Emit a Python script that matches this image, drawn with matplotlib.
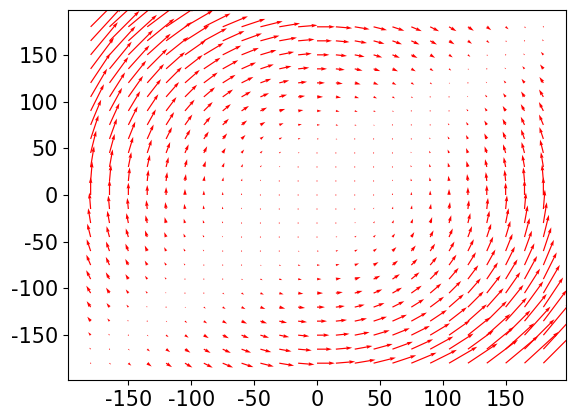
import numpy as np
import matplotlib
matplotlib.use("Agg")
import matplotlib.pyplot as plt

plt.rcParams["axes.unicode_minus"] = False

# grid positions (degrees), 15-degree spacing
x_vals = np.arange(-180, 181, 15)
y_vals = np.arange(-180, 181, 15)
tick_vals = [-150, -100, -50, 0, 50, 100, 150]

X, Y = np.meshgrid(x_vals, y_vals)
# vector field: zero along y = x, strongest in the top-left / bottom-right corners
U = Y * (Y - X)
V = X * (X - Y)

fig = plt.figure(figsize=(5.72, 4.19), dpi=100)
ax = fig.add_axes([68 / 572, 39 / 419, 498 / 572, 370 / 419])
ax.quiver(X, Y, U, V, color="r")

ax.set_xticks(tick_vals)
ax.set_yticks(tick_vals)
ax.tick_params(labelsize=15)

fig.savefig("out.png", dpi=100)
